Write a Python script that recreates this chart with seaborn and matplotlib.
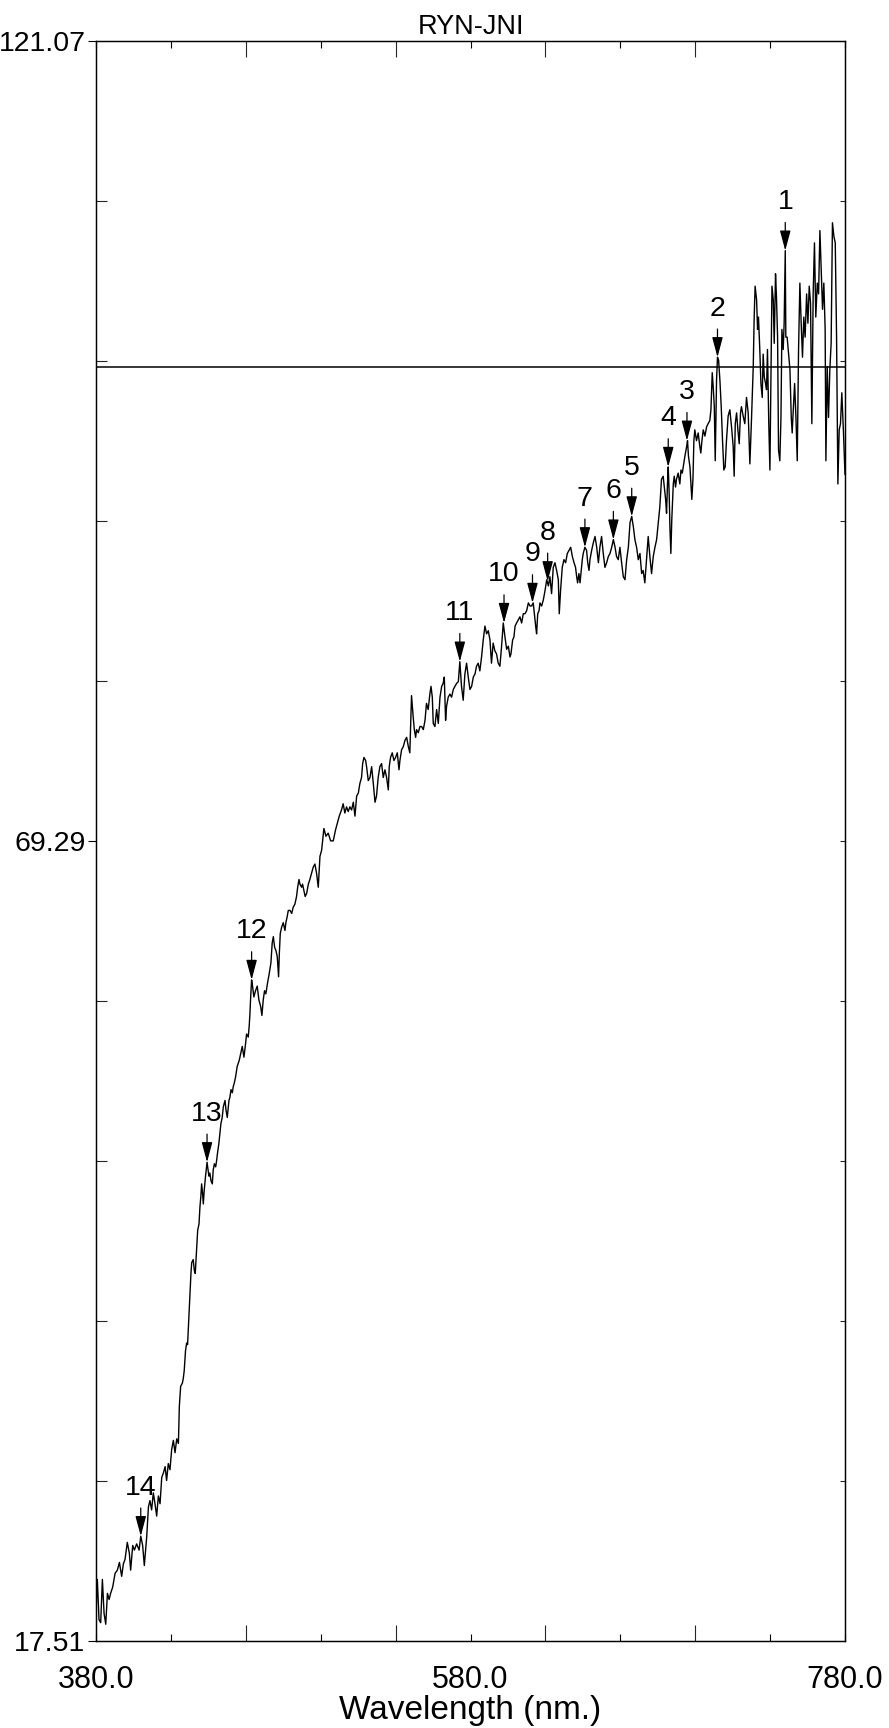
### Absorption spectrum RYN-JNI
## thin black trace with numbered peak arrows

import matplotlib.pyplot as plt
import matplotlib.ticker as mticker
import numpy as np
import pandas as pd
import seaborn as sns

## spectrum (nm, signal)
wavelength = [
    380.0, 380.7, 381.6, 382.5, 383.4, 384.3, 385.2, 386.1, 387.0, 387.8,
    388.9, 390.2, 391.4, 392.5, 393.7, 394.6, 395.5, 396.7, 397.8, 398.5,
    399.6, 400.5, 401.7, 403.0, 403.9, 404.9, 405.8, 407.1, 408.0, 408.8,
    409.7, 410.6, 411.5, 412.4, 413.3, 414.2, 415.1, 416.0, 416.9, 417.7,
    418.6, 419.5, 420.4, 421.3, 422.2, 423.1, 424.0, 424.5, 425.2, 426.1,
    426.6, 427.1, 427.8, 428.4, 428.9, 429.6, 430.2, 430.7, 431.1, 431.9,
    432.5, 433.0, 433.7, 434.3, 435.0, 435.5, 436.0, 436.4, 436.9, 437.3,
    437.8, 438.5, 439.3, 440.3, 440.8, 441.4, 442.1, 442.6, 443.2, 443.9,
    444.4, 444.9, 445.6, 446.2, 446.7, 447.4, 448.0, 448.9, 449.4, 450.1,
    451.0, 451.5, 452.1, 452.8, 453.3, 453.8, 454.5, 455.4, 456.5, 457.2,
    458.1, 459.0, 459.9, 460.4, 461.3, 461.8, 462.2, 462.6, 463.1, 463.6,
    464.3, 465.2, 466.1, 467.0, 467.9, 468.6, 469.3, 470.0, 470.7, 471.6,
    472.5, 473.4, 474.1, 474.7, 475.4, 476.1, 476.8, 477.5, 477.9, 478.4,
    479.1, 480.0, 480.9, 481.4, 482.1, 482.7, 483.6, 484.5, 485.3, 486.2,
    487.1, 487.7, 488.4, 488.9, 489.8, 490.3, 491.0, 491.7, 492.5, 493.4,
    494.2, 495.1, 496.0, 496.9, 497.8, 498.7, 499.6, 500.5, 501.7, 502.8,
    504.0, 505.3, 506.7, 507.9, 508.8, 509.9, 511.1, 512.0, 512.9, 513.8,
    514.7, 515.6, 516.5, 517.4, 518.3, 519.2, 520.1, 520.9, 521.8, 522.4,
    523.1, 524.0, 524.5, 525.4, 526.3, 527.2, 528.1, 529.0, 529.8, 530.7,
    531.6, 532.5, 533.4, 534.3, 535.2, 536.1, 536.6, 537.3, 538.2, 539.1,
    540.0, 540.9, 541.8, 542.3, 543.2, 544.1, 545.0, 545.9, 546.8, 547.6,
    548.5, 549.4, 550.0, 550.7, 551.2, 552.1, 553.0, 553.9, 554.8, 555.7,
    556.5, 557.4, 558.3, 558.9, 559.6, 560.1, 561.0, 561.9, 562.8, 563.7,
    564.6, 565.4, 566.0, 566.7, 567.2, 568.1, 569.0, 569.9, 570.8, 571.7,
    572.6, 573.5, 574.3, 575.2, 576.1, 577.0, 577.9, 578.8, 579.7, 580.6,
    581.5, 582.4, 583.2, 584.1, 585.0, 585.9, 586.8, 587.7, 588.6, 589.5,
    590.4, 591.2, 592.1, 593.0, 593.9, 594.8, 595.7, 596.6, 597.5, 598.4,
    599.3, 600.2, 601.1, 601.6, 602.5, 603.2, 603.8, 604.6, 605.5, 606.4,
    607.3, 608.2, 609.1, 610.0, 610.9, 611.8, 612.6, 613.5, 614.1, 614.8,
    615.3, 615.9, 616.6, 617.1, 618.0, 618.9, 619.8, 620.7, 621.6, 622.4,
    623.3, 624.2, 625.1, 626.0, 626.9, 627.4, 628.1, 629.0, 629.9, 630.8,
    631.7, 632.6, 633.5, 634.4, 635.3, 636.1, 636.7, 637.2, 637.9, 638.5,
    639.0, 639.7, 640.2, 641.1, 642.0, 642.6, 643.3, 643.8, 644.7, 645.6,
    646.5, 647.4, 648.3, 649.1, 650.0, 650.9, 651.8, 652.7, 653.6, 654.5,
    655.4, 656.3, 657.2, 658.0, 658.9, 659.8, 660.7, 661.6, 662.5, 663.4,
    664.3, 665.2, 666.1, 667.0, 667.8, 668.7, 669.6, 670.5, 671.4, 672.2,
    673.1, 674.0, 674.9, 675.8, 676.7, 677.6, 678.5, 679.4, 680.3, 681.1,
    682.0, 682.9, 683.5, 684.2, 684.7, 685.2, 685.6, 686.1, 686.5, 687.0,
    687.5, 688.3, 688.8, 689.5, 690.0, 690.9, 691.8, 692.4, 693.1, 693.6,
    694.5, 695.4, 695.9, 696.4, 697.2, 697.7, 698.2, 698.8, 699.3, 699.8,
    700.7, 701.6, 702.5, 703.0, 703.6, 704.3, 705.2, 706.1, 706.9, 707.8,
    708.4, 709.1, 709.6, 710.2, 710.7, 711.4, 711.9, 712.5, 713.2, 713.9,
    714.6, 715.3, 716.0, 716.7, 717.6, 718.5, 719.4, 720.3, 720.8, 721.4,
    722.1, 722.8, 723.5, 724.2, 724.7, 725.6, 726.5, 727.4, 728.3, 729.2,
    730.1, 731.0, 731.5, 732.0, 732.8, 733.3, 733.8, 734.5, 735.1, 735.8,
    736.3, 736.9, 737.6, 738.1, 738.6, 739.3, 739.9, 740.4, 741.0, 741.7,
    742.2, 742.9, 743.4, 744.0, 744.5, 745.2, 745.8, 746.3, 747.0, 747.5,
    748.1, 748.4, 749.1, 749.9, 750.6, 751.3, 751.8, 752.3, 753.1, 753.8,
    754.5, 755.2, 755.9, 756.6, 757.3, 758.0, 758.7, 759.5, 760.2, 760.9,
    761.6, 762.3, 763.0, 763.7, 764.4, 765.2, 765.9, 766.6, 767.3, 768.0,
    768.7, 769.4, 769.8, 770.5, 771.2, 771.9, 772.6, 773.3, 774.1, 774.8,
    775.5, 776.2, 776.9, 777.6, 778.3, 779.2, 780.0,
]
signal = [
    19.3, 21.5, 18.9, 18.7, 21.5, 19.3, 18.6, 20.6, 20.2, 20.6,
    21.0, 21.9, 22.1, 22.6, 21.7, 22.5, 22.8, 23.9, 23.2, 22.1,
    23.7, 23.4, 23.8, 23.4, 24.3, 23.7, 22.4, 24.3, 26.2, 26.6,
    26.0, 27.1, 26.4, 25.6, 26.9, 26.4, 28.1, 28.4, 28.8, 27.9,
    29.0, 28.6, 29.9, 30.5, 29.7, 30.6, 30.3, 32.7, 34.0, 34.2,
    34.5, 35.0, 36.3, 36.8, 36.7, 38.5, 40.0, 41.3, 42.0, 42.2,
    41.5, 41.3, 42.8, 44.1, 44.5, 45.6, 46.3, 47.1, 46.5, 45.8,
    46.7, 47.6, 48.5, 47.6, 47.8, 47.3, 47.1, 48.0, 48.4, 48.2,
    48.6, 49.1, 49.7, 50.4, 51.0, 51.4, 52.1, 52.5, 51.9, 51.4,
    52.5, 52.7, 53.2, 53.0, 53.4, 53.6, 54.0, 54.7, 55.1, 55.5,
    56.0, 55.3, 56.2, 56.8, 56.6, 57.3, 58.1, 59.2, 60.3, 59.9,
    59.2, 59.6, 59.9, 59.0, 58.6, 58.0, 59.0, 59.6, 59.4, 60.1,
    60.7, 61.4, 62.7, 63.1, 62.4, 62.2, 61.8, 60.5, 62.0, 63.3,
    63.7, 64.0, 63.5, 64.0, 64.4, 64.8, 64.8, 64.6, 65.0, 65.2,
    65.7, 66.3, 66.8, 66.5, 66.3, 66.5, 66.1, 65.7, 65.9, 66.5,
    66.8, 67.2, 67.6, 67.8, 67.2, 66.3, 68.3, 68.7, 70.1, 69.6,
    69.8, 69.3, 69.3, 70.0, 70.4, 70.9, 71.3, 71.7, 71.1, 71.5,
    71.2, 71.5, 71.3, 71.8, 70.9, 72.2, 72.4, 73.0, 73.4, 74.3,
    74.7, 74.5, 74.1, 73.2, 73.4, 74.1, 73.0, 71.8, 72.2, 73.4,
    74.1, 74.3, 73.4, 73.9, 73.4, 72.6, 74.1, 74.7, 75.0, 74.5,
    74.7, 75.0, 73.9, 74.5, 75.2, 75.4, 75.8, 76.0, 75.4, 75.0,
    78.7, 77.3, 76.5, 76.0, 76.5, 76.3, 76.7, 76.7, 76.5, 77.1,
    78.2, 77.8, 78.8, 79.3, 78.6, 76.9, 76.7, 77.8, 76.9, 78.6,
    79.3, 79.5, 79.9, 77.1, 78.0, 78.6, 78.8, 78.6, 79.1, 79.3,
    79.5, 79.6, 80.9, 79.3, 78.4, 80.1, 80.8, 79.9, 79.1, 79.3,
    79.9, 80.1, 80.6, 80.8, 80.3, 81.2, 82.3, 83.2, 82.7, 82.9,
    82.3, 80.8, 82.1, 81.6, 81.4, 80.8, 80.6, 81.9, 83.4, 82.5,
    81.7, 81.9, 81.2, 81.4, 82.3, 82.5, 83.2, 83.4, 83.6, 83.8,
    83.4, 84.0, 84.0, 84.2, 84.7, 84.5, 84.5, 84.7, 84.0, 83.2,
    82.7, 84.0, 84.2, 84.7, 84.5, 84.9, 85.5, 86.2, 85.8, 86.4,
    85.3, 87.0, 87.3, 86.8, 86.2, 84.0, 85.5, 87.0, 87.5, 87.3,
    87.9, 88.1, 88.3, 87.7, 87.3, 87.0, 86.4, 86.0, 86.6, 86.0,
    86.6, 87.5, 87.9, 88.3, 88.1, 87.3, 86.8, 87.5, 88.1, 88.6,
    89.0, 88.3, 87.3, 88.3, 89.0, 87.9, 87.0, 87.3, 87.7, 87.9,
    88.3, 88.8, 88.3, 87.7, 87.5, 88.3, 87.3, 86.4, 86.2, 87.5,
    88.3, 89.9, 90.3, 89.6, 88.8, 88.3, 87.5, 87.9, 86.6, 86.8,
    86.0, 87.5, 89.0, 87.7, 86.6, 87.7, 88.3, 88.8, 89.9, 90.9,
    92.7, 92.9, 92.2, 91.4, 90.5, 92.4, 93.5, 91.8, 89.6, 87.9,
    90.1, 92.4, 92.9, 92.2, 92.7, 93.1, 92.4, 93.3, 93.1, 93.5,
    94.2, 94.8, 95.2, 94.2, 93.5, 92.4, 91.4, 92.7, 95.2, 95.9,
    95.2, 95.7, 94.8, 94.4, 95.2, 95.9, 95.5, 96.1, 96.3, 96.5,
    97.2, 99.6, 98.7, 97.4, 93.9, 99.1, 100.6, 100.4, 99.1, 97.4,
    95.2, 93.3, 93.5, 95.2, 96.8, 97.2, 96.1, 94.8, 92.9, 96.3,
    97.0, 95.9, 95.0, 97.0, 97.4, 96.8, 96.3, 98.0, 97.0, 93.7,
    96.7, 100.0, 103.2, 105.2, 104.3, 102.4, 103.2, 101.1, 98.9, 98.0,
    100.8, 99.3, 98.9, 98.5, 101.1, 96.3, 93.3, 98.9, 105.2, 104.3,
    101.5, 106.0, 104.5, 101.9, 94.6, 93.9, 96.7, 102.4, 101.1, 102.8,
    107.5, 101.9, 101.9, 100.8, 99.8, 96.7, 95.7, 97.0, 98.9, 96.7,
    93.9, 101.1, 105.4, 102.8, 100.6, 103.2, 101.9, 104.7, 102.8, 105.2,
    104.1, 96.3, 104.7, 108.0, 103.2, 105.4, 104.7, 108.8, 106.2, 103.7,
    105.4, 102.4, 93.9, 100.0, 96.7, 99.8, 101.5, 109.3, 108.4, 108.0,
    101.9, 92.4, 95.9, 96.3, 98.3, 95.7, 93.0,
]

## numbered peaks (arrow tips)
peak_labels = ["1", "2", "3", "4", "5", "6", "7", "8", "9", "10", "11", "12", "13", "14"]
peak_nm = [748.1, 711.9, 695.6, 685.6, 666.1, 656.3, 641.1, 621.2, 613.1, 597.9, 574.3, 463.1, 439.3, 403.9]
peak_val = [107.5, 100.6, 95.2, 93.5, 90.3, 88.8, 88.3, 86.1, 84.7, 83.4, 80.9, 60.3, 48.5, 24.3]

## axes
x_range = [380.0, 780.0]
y_range = [17.51, 121.07]
x_label_ticks = [380.0, 420.0, 500.0, 580.0, 660.0, 740.0, 780.0]
x_label_text = ["380.0", "", "", "580.0", "", "", "780.0"]
x_long_ticks = [460.0, 540.0, 620.0, 700.0]
y_label_ticks = [17.51, 69.29, 121.07]
ref_level = 100.0
title = "RYN-JNI"
x_title = "Wavelength (nm.)"

df = pd.DataFrame({"nm": wavelength, "signal": signal})

sns.set_theme(style="ticks")
plt.rcParams["font.family"] = ["Liberation Sans", "DejaVu Sans"]
plt.rcParams["axes.edgecolor"] = "black"
plt.rcParams["axes.linewidth"] = 0.9

fig = plt.figure(figsize=(8.89, 17.28), dpi=100)
ax = fig.add_axes([0.108, 0.0503, 0.8425, 0.926])

sns.lineplot(data=df, x="nm", y="signal", ax=ax, color="black", linewidth=1.0,
             estimator=None, sort=False)
ax.axhline(ref_level, color="black", lw=1.1)

ax.set_xlim(*x_range)
ax.set_ylim(*y_range)

# x ticks: short labelled ones and long minor ones, inside on both top and bottom
ax.xaxis.set_major_locator(mticker.FixedLocator(x_label_ticks))
ax.set_xticklabels(x_label_text)
ax.xaxis.set_minor_locator(mticker.FixedLocator(x_long_ticks))
ax.tick_params(axis="x", which="major", direction="in", length=5, width=0.8,
               top=True, labelsize=22, pad=17, colors="black")
ax.tick_params(axis="x", which="minor", direction="in", length=11.5, width=0.8,
               top=True, bottom=True)

# y ticks: labelled ends/middle outside, tenths inside
y_tenths = np.linspace(y_range[0], y_range[1], 11)
ax.yaxis.set_major_locator(mticker.FixedLocator(y_label_ticks))
ax.set_yticklabels([f"{v:.2f}" for v in y_label_ticks])
ax.yaxis.set_minor_locator(mticker.FixedLocator(y_tenths[1:-1]))
ax.tick_params(axis="y", which="major", direction="out", length=6, width=0.8,
               labelsize=20.5, pad=1.5, colors="black")
ax.tick_params(axis="y", which="minor", direction="in", length=8, width=0.8)

# right side: small inward ticks only
ax_r = ax.twinx()
ax_r.set_ylim(*y_range)
ax_r.set_yticks(y_tenths[1:-1])
ax_r.tick_params(axis="y", direction="in", length=3.6, width=0.8, labelright=False)
ax_r.grid(False)

ax.set_xlabel(x_title, fontsize=24, labelpad=0, color="black")
ax.set_ylabel("")
ax.set_title(title, fontsize=19.5, pad=5, color="black")

# numbered arrows
for lbl, nm, val in zip(peak_labels, peak_nm, peak_val):
    ax.annotate(lbl, xy=(nm, val), xytext=(0, 35), textcoords="offset points",
                ha="center", va="center", fontsize=20.5, color="black",
                arrowprops=dict(arrowstyle="-|>,head_length=0.6,head_width=0.16",
                                color="black", lw=0.9, shrinkA=3, shrinkB=0))

plt.savefig("out.png", dpi=100)
plt.close()
